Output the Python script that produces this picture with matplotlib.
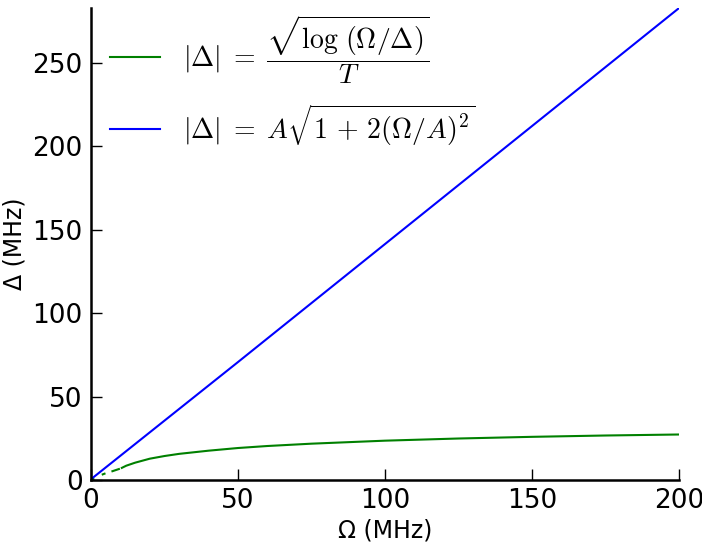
import numpy as np
import matplotlib
matplotlib.use("Agg")
import matplotlib.pyplot as plt

# data
omega_blue = [0, 50, 100, 150, 200]
delta_blue = [0.5, 70.7, 141.4, 212.1, 282.8]

nan = np.nan
omega_green = [0.3, 0.8, nan, 4.0, 4.6, nan, 7.3, 9.5, nan, 10.5, 12, 15, 20,
               25, 30, 40, 50, 60, 75, 100, 125, 150, 175, 200]
delta_green = [0.3, 0.7, nan, 3.4, 3.8, nan, 5.3, 6.6, nan, 7.3, 8.6, 10.4,
               12.8, 14.4, 15.7, 17.6, 19.2, 20.4, 21.8, 23.6, 24.9, 25.9,
               26.7, 27.3]

label_green = r"$|\Delta| \;=\; \dfrac{\sqrt{\log\,(\Omega/\Delta)}}{T}$"
label_blue = r"$|\Delta| \;=\; A\sqrt{1 \,+\, 2(\Omega/A)^2}$"

plt.rcParams["mathtext.fontset"] = "cm"

fig = plt.figure(figsize=(7.02, 5.48), dpi=100)
ax = fig.add_axes([0.1296, 0.124, 0.8374, 0.861])

ax.plot(omega_green, delta_green, color=(0, 0.5, 0), lw=1.5, label=label_green)
ax.plot(omega_blue, delta_blue, color=(0, 0, 1), lw=1.5, label=label_blue)

ax.set_xlim(0, 200)
ax.set_ylim(0, 282.8)
ax.set_xticks([0, 50, 100, 150, 200])
ax.set_yticks([0, 50, 100, 150, 200, 250])

ax.spines["top"].set_visible(False)
ax.spines["right"].set_visible(False)
ax.spines["left"].set_linewidth(1.8)
ax.spines["bottom"].set_linewidth(1.8)
ax.tick_params(direction="in", length=8, width=1, labelsize=19, pad=6)

ax.set_xlabel("Ω (MHz)", fontsize=17, labelpad=3)
ax.set_ylabel("Δ (MHz)", fontsize=17, labelpad=4)

leg = ax.legend(loc="upper left", frameon=False, fontsize=20,
                handlelength=1.8, labelspacing=0.6, borderaxespad=0.3,
                bbox_to_anchor=(0.0, 1.03))

fig.savefig("out.png", dpi=100)
